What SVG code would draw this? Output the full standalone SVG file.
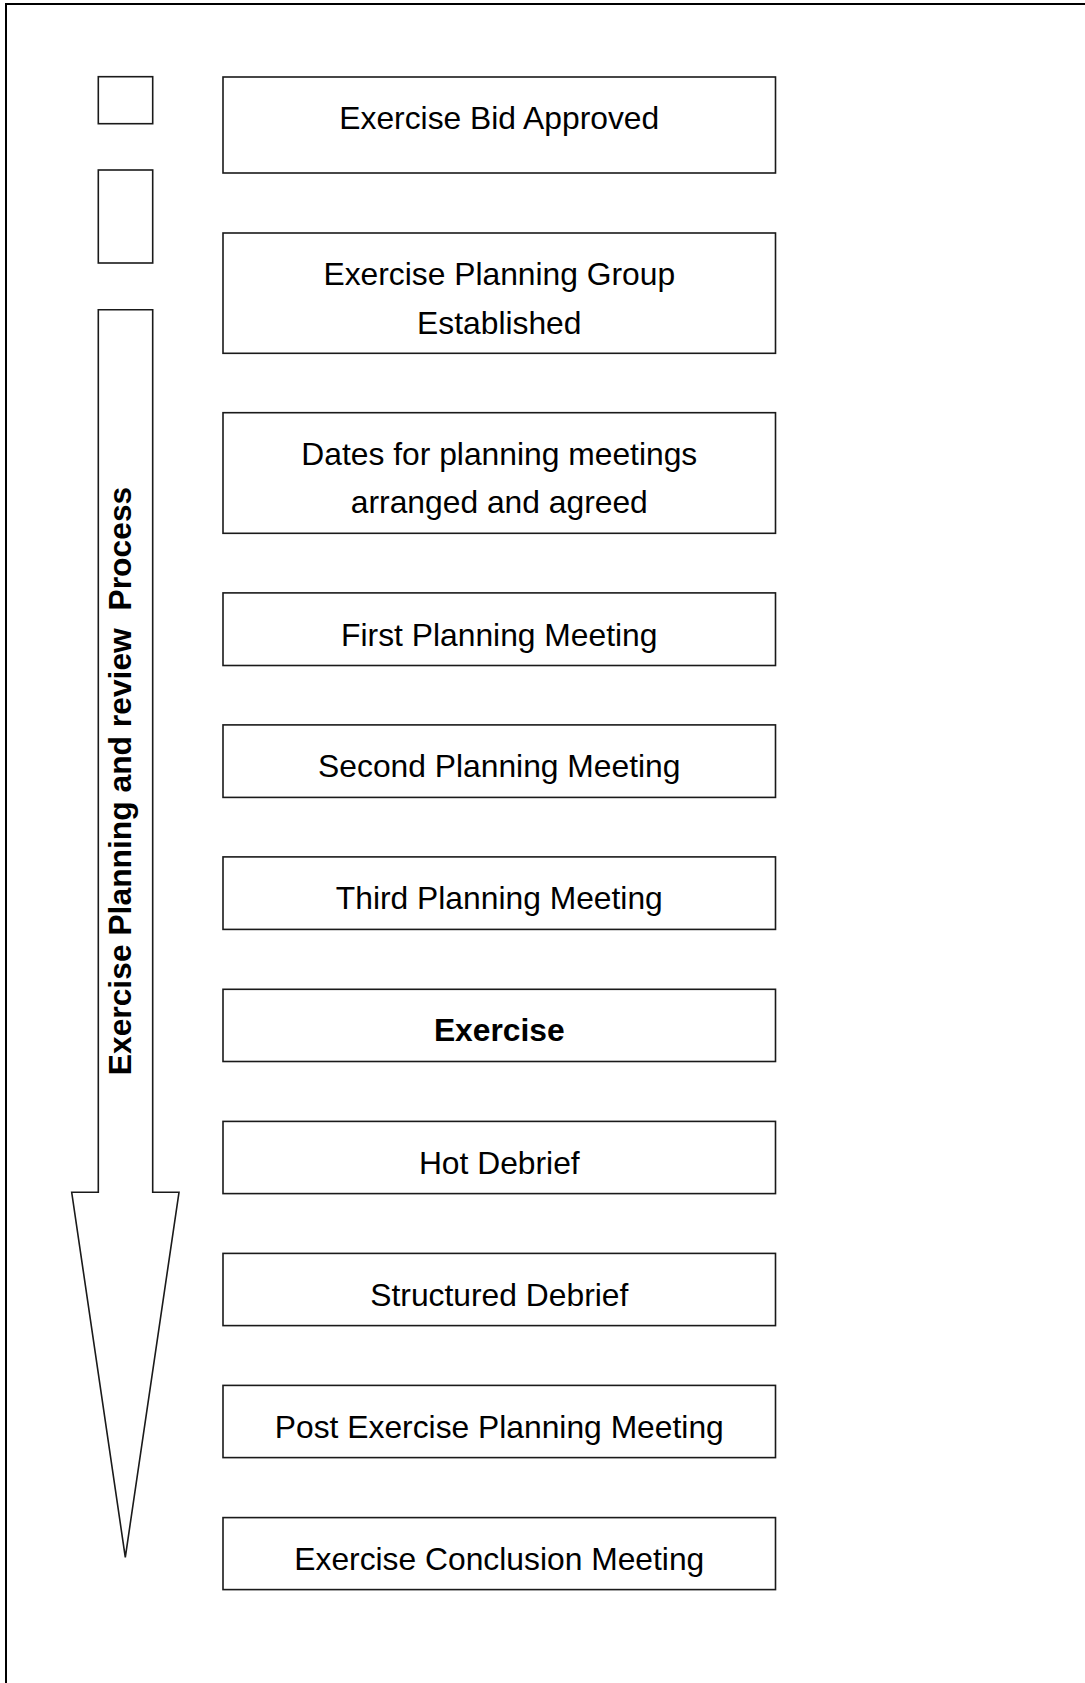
<svg xmlns="http://www.w3.org/2000/svg" width="1085" height="1683" viewBox="0 0 1085 1683">
  <style>
    .box { fill: #ffffff; stroke: #1a1a1a; stroke-width: 1.6; }
    .lbl { font-family: "Liberation Sans", Arial, sans-serif; font-size: 31.8px; fill: #000000; text-anchor: middle; }
    .bold { font-weight: bold; }
  </style>
  <rect x="0" y="0" width="1085" height="1683" fill="#ffffff"/>
  <g id="frame">
    <polyline points="6,1690 6,4 1090,4" fill="none" stroke="#000000" stroke-width="2"/>
  </g>
  <g id="marker-1"><rect class="box" x="98.3" y="76.7" width="54.4" height="47"/></g>
  <g id="marker-2"><rect class="box" x="98.3" y="170" width="54.4" height="93"/></g>
  <g id="process-arrow">
    <polygon class="box" points="98.3,309.7 152.7,309.7 152.7,1192.3 179,1192.3 125.3,1557.3 71.7,1192.3 98.3,1192.3"/>
    <text class="lbl bold" transform="translate(130.5,781) rotate(-90)" x="0" y="0" xml:space="preserve">Exercise Planning and review  Process</text>
  </g>
  <g id="n1"><rect class="box" x="223" y="77" width="552.5" height="96"/><text class="lbl" x="499.3" y="129.3">Exercise Bid Approved</text></g>
  <g id="n2"><rect class="box" x="223" y="233" width="552.5" height="120.3"/><text class="lbl" x="499.3" y="285.3">Exercise Planning Group</text><text class="lbl" x="499.3" y="334">Established</text></g>
  <g id="n3"><rect class="box" x="223" y="412.7" width="552.5" height="120.6"/><text class="lbl" x="499.3" y="465.3">Dates for planning meetings</text><text class="lbl" x="499.3" y="513">arranged and agreed</text></g>
  <g id="n4"><rect class="box" x="223" y="592.9" width="552.5" height="72.6"/><text class="lbl" x="499.3" y="645.6">First Planning Meeting</text></g>
  <g id="n5"><rect class="box" x="223" y="724.9" width="552.5" height="72.5"/><text class="lbl" x="499.3" y="777.4">Second Planning Meeting</text></g>
  <g id="n6"><rect class="box" x="223" y="856.9" width="552.5" height="72.5"/><text class="lbl" x="499.3" y="909.3">Third Planning Meeting</text></g>
  <g id="n7"><rect class="box" x="223" y="989.3" width="552.5" height="72.2"/><text class="lbl bold" x="499.3" y="1041">Exercise</text></g>
  <g id="n8"><rect class="box" x="223" y="1121.4" width="552.5" height="72.2"/><text class="lbl" x="499.3" y="1173.5">Hot Debrief</text></g>
  <g id="n9"><rect class="box" x="223" y="1253.4" width="552.5" height="72.2"/><text class="lbl" x="499.3" y="1305.8">Structured Debrief</text></g>
  <g id="n10"><rect class="box" x="223" y="1385.4" width="552.5" height="72.2"/><text class="lbl" x="499.3" y="1437.5">Post Exercise Planning Meeting</text></g>
  <g id="n11"><rect class="box" x="223" y="1517.6" width="552.5" height="72"/><text class="lbl" x="499.3" y="1569.5">Exercise Conclusion Meeting</text></g>
  <g id="connectors"/>
</svg>
